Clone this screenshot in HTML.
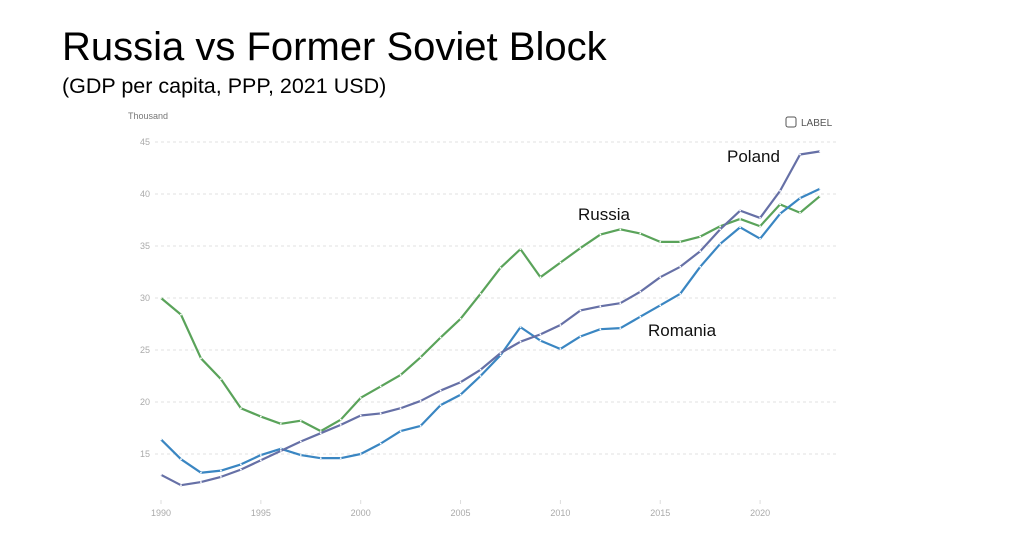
<!DOCTYPE html>
<html><head><meta charset="utf-8"><style>
body{margin:0;background:#fff;width:1024px;height:553px;overflow:hidden;font-family:"Liberation Sans",sans-serif}
</style></head><body>
<svg id="s" width="1024" height="553" xmlns="http://www.w3.org/2000/svg">
<text x="62" y="60" font-size="40" fill="#000">Russia vs Former Soviet Block</text>
<text x="62" y="93" font-size="21.5" fill="#000">(GDP per capita, PPP, 2021 USD)</text>
<text x="128" y="119" font-size="9" fill="#777">Thousand</text>
<rect x="786" y="117" width="10" height="10" rx="2" fill="none" stroke="#555" stroke-width="1"/>
<text x="801" y="126" font-size="10" fill="#555">LABEL</text>
<g id="g"></g>
<text x="727" y="162" font-size="17" fill="#111">Poland</text>
<text x="578" y="220" font-size="17" fill="#111">Russia</text>
<text x="648" y="336" font-size="17" fill="#111">Romania</text>
</svg>
<script>
var g=document.getElementById('g'),NS='http://www.w3.org/2000/svg';
function X(yr){return 161+(yr-1990)*19.97}
function Y(v){return 610-10.4*v}
function el(t,a){var e=document.createElementNS(NS,t);for(var k in a)e.setAttribute(k,a[k]);g.appendChild(e);return e}
for(var v=15;v<=45;v+=5){el('line',{x1:155,x2:838,y1:Y(v),y2:Y(v),stroke:'#e2e2e2','stroke-dasharray':'3,3','stroke-width':1});
var t=el('text',{x:150,y:Y(v)+3,'font-size':9,fill:'#aaa','text-anchor':'end'});t.textContent=v;}
for(var yr=1990;yr<=2020;yr+=5){el('line',{x1:X(yr),x2:X(yr),y1:500,y2:504,stroke:'#ddd'});
var t=el('text',{x:X(yr),y:516,'font-size':9,fill:'#aaa','text-anchor':'middle'});t.textContent=yr;}
var S=[
['#5aa35a',[30,28.4,24.2,22.2,19.4,18.6,17.9,18.2,17.2,18.3,20.4,21.5,22.6,24.3,26.2,28,30.4,32.9,34.7,32,33.4,34.8,36.1,36.6,36.2,35.4,35.4,35.9,36.9,37.6,36.9,39,38.2,39.8]],
['#3a86c2',[16.4,14.5,13.2,13.4,14,14.9,15.5,14.9,14.6,14.6,15,16,17.2,17.7,19.7,20.7,22.5,24.5,27.2,25.9,25.1,26.3,27,27.1,28.2,29.3,30.4,33,35.2,36.8,35.7,38.1,39.6,40.5]],
['#6670a6',[13,12,12.3,12.8,13.5,14.4,15.3,16.2,17,17.8,18.7,18.9,19.4,20.1,21.1,21.9,23.1,24.7,25.8,26.5,27.4,28.8,29.2,29.5,30.6,32,33,34.5,36.6,38.4,37.7,40.3,43.8,44.1]]];
S.forEach(function(s){var p=s[1].map(function(v,i){return X(1990+i)+','+Y(v)}).join(' ');
el('polyline',{points:p,fill:'none',stroke:s[0],'stroke-width':2.2,'stroke-linejoin':'round'});
s[1].forEach(function(v,i){el('circle',{cx:X(1990+i),cy:Y(v),r:0.9,fill:'#fff'})});});
</script>
</body></html>
